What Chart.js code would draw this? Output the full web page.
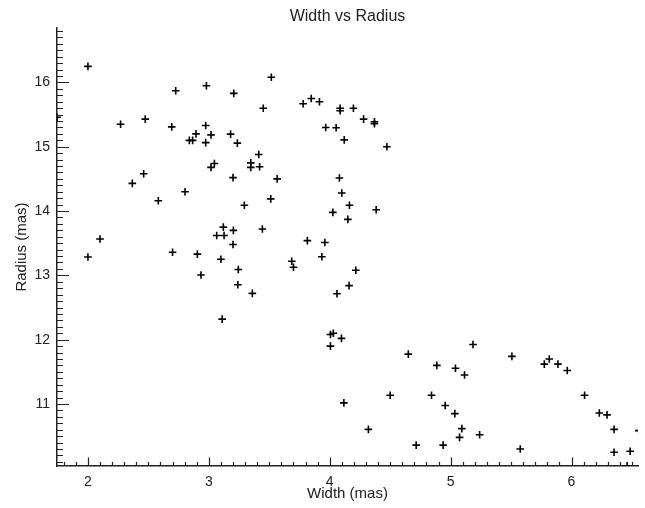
<!DOCTYPE html>
<html>
<head>
<meta charset="utf-8">
<script src="https://cdn.jsdelivr.net/npm/chart.js"></script>
<style>
  html, body { margin: 0; padding: 0; background: #fff; }
  #plot { display: block; }
</style>
</head>
<body>
<canvas id="plot" width="645" height="508"></canvas>
<script>
    // values
    const widths = [
        2.00, 2.726, 2.98, 3.206, 3.517, 3.45, 3.78, 3.847, 3.915, 3.967,
        2.27, 2.474, 2.693, 2.974, 2.839, 2.866, 2.894, 2.974, 3.018, 3.18,
        3.236, 3.413, 3.347, 3.347, 3.42, 3.046, 3.018, 3.20, 3.565, 2.367,
        2.461, 2.803, 2.582, 3.294, 3.512, 2.10, 3.065, 3.126, 3.12, 3.203,
        3.20, 3.443, 3.815, 3.96, 4.026, 2.00, 2.70, 2.905, 3.10, 2.935,
        3.244, 3.24, 3.36, 3.11, 3.686, 3.70, 3.935, 4.216, 4.16, 4.06,
        4.006, 4.03, 4.097, 4.006, 4.65, 5.185, 4.886, 5.04, 5.115, 5.507,
        5.775, 5.816, 5.888, 5.965, 4.50, 4.117, 4.842, 4.955, 5.035, 6.108,
        6.23, 6.294, 6.352, 6.556, 4.32, 5.093, 5.074, 5.24, 4.715, 4.938,
        5.576, 6.352, 6.485, 6.46, 4.086, 4.086, 4.196, 4.28, 4.37, 4.37,
        4.053, 4.12, 4.473, 4.08, 4.10, 4.163, 4.15, 4.384, 1.745
    ];
    const radii = [
        16.25, 15.87, 15.95, 15.83, 16.08, 15.60, 15.67, 15.75, 15.70, 15.30,
        15.35, 15.43, 15.31, 15.33, 15.10, 15.10, 15.20, 15.065, 15.185, 15.196,
        15.056, 14.88, 14.75, 14.68, 14.69, 14.74, 14.68, 14.52, 14.50, 14.43,
        14.58, 14.30, 14.16, 14.09, 14.19, 13.565, 13.62, 13.62, 13.75, 13.70,
        13.48, 13.72, 13.54, 13.51, 13.98, 13.285, 13.36, 13.33, 13.25, 13.005,
        13.09, 12.855, 12.72, 12.32, 13.22, 13.125, 13.29, 13.08, 12.84, 12.715,
        12.08, 12.10, 12.02, 11.90, 11.775, 11.925, 11.60, 11.556, 11.45, 11.74,
        11.62, 11.70, 11.62, 11.52, 11.135, 11.016, 11.135, 10.975, 10.85, 11.135,
        10.86, 10.83, 10.605, 10.585, 10.605, 10.617, 10.48, 10.52, 10.36, 10.36,
        10.30, 10.25, 10.265, 10.04, 15.60, 15.56, 15.60, 15.43, 15.39, 15.36,
        15.295, 15.107, 15.00, 14.515, 14.28, 14.09, 13.87, 14.02, 15.46
    ];
    const xRange = [1.744, 6.55];
    const yRange = [10.035, 16.847];

    const ink = '#222';
    const points = widths.map((w, i) => ({ x: w, y: radii[i] }));

    // IDL style ticks: inward, major every 1, minor every 0.1
    const inwardTicks = {
        id: 'inwardTicks',
        afterDatasetsDraw(chart) {
            const ctx = chart.ctx;
            const area = chart.chartArea;
            const xs = chart.scales.x, ys = chart.scales.y;
            ctx.save();
            ctx.strokeStyle = ink;
            ctx.lineWidth = 1.2;
            ctx.beginPath();
            for (let i = Math.ceil(xRange[0] * 10); i <= Math.floor(xRange[1] * 10); i++) {
                const px = Math.round(xs.getPixelForValue(i / 10)) + 0.5;
                const len = i % 10 === 0 ? 8.5 : 4;
                ctx.moveTo(px, area.bottom);
                ctx.lineTo(px, area.bottom - len);
            }
            for (let i = Math.ceil(yRange[0] * 10); i <= Math.floor(yRange[1] * 10); i++) {
                const py = Math.round(ys.getPixelForValue(i / 10)) + 0.5;
                const len = i % 10 === 0 ? 12 : 6;
                ctx.moveTo(area.left, py);
                ctx.lineTo(area.left + len, py);
            }
            ctx.stroke();
            ctx.restore();
        }
    };

    new Chart(document.getElementById('plot'), {
        type: 'scatter',
        data: {
            datasets: [{
                data: points,
                pointStyle: 'cross',
                radius: 3.8,
                borderWidth: 1.6,
                borderColor: '#000',
                backgroundColor: '#000'
            }]
        },
        options: {
            responsive: false,
            animation: false,
            events: [],
            layout: { padding: { top: 0, left: 0, right: 7, bottom: 0 } },
            plugins: {
                legend: { display: false },
                tooltip: { enabled: false },
                title: {
                    display: true,
                    text: 'Width vs Radius',
                    fullSize: false,
                    color: ink,
                    font: { family: 'Liberation Sans', size: 16, weight: 'normal' },
                    padding: { top: 7, bottom: 1.8 }
                }
            },
            scales: {
                x: {
                    type: 'linear',
                    min: xRange[0],
                    max: xRange[1],
                    afterFit: (s) => { s.height = 42; },
                    grid: { display: false, drawTicks: false },
                    border: { display: true, color: ink, width: 1.5 },
                    ticks: {
                        stepSize: 1,
                        includeBounds: false,
                        padding: 8,
                        color: ink,
                        maxRotation: 0,
                        font: { family: 'Liberation Sans', size: 14 }
                    },
                    title: {
                        display: true,
                        text: 'Width (mas)',
                        color: ink,
                        font: { family: 'Liberation Sans', size: 15 },
                        padding: { top: 0, bottom: 5 }
                    }
                },
                y: {
                    type: 'linear',
                    min: yRange[0],
                    max: yRange[1],
                    afterFit: (s) => { s.width = 57; },
                    grid: { display: false, drawTicks: false },
                    border: { display: true, color: ink, width: 1.5 },
                    ticks: {
                        stepSize: 1,
                        includeBounds: false,
                        padding: 7,
                        color: ink,
                        font: { family: 'Liberation Sans', size: 14 }
                    },
                    title: {
                        display: true,
                        text: 'Radius (mas)',
                        color: ink,
                        font: { family: 'Liberation Sans', size: 15 },
                        padding: { top: 12.5, bottom: 0 }
                    }
                }
            }
        },
        plugins: [inwardTicks]
    });
</script>
</body>
</html>
